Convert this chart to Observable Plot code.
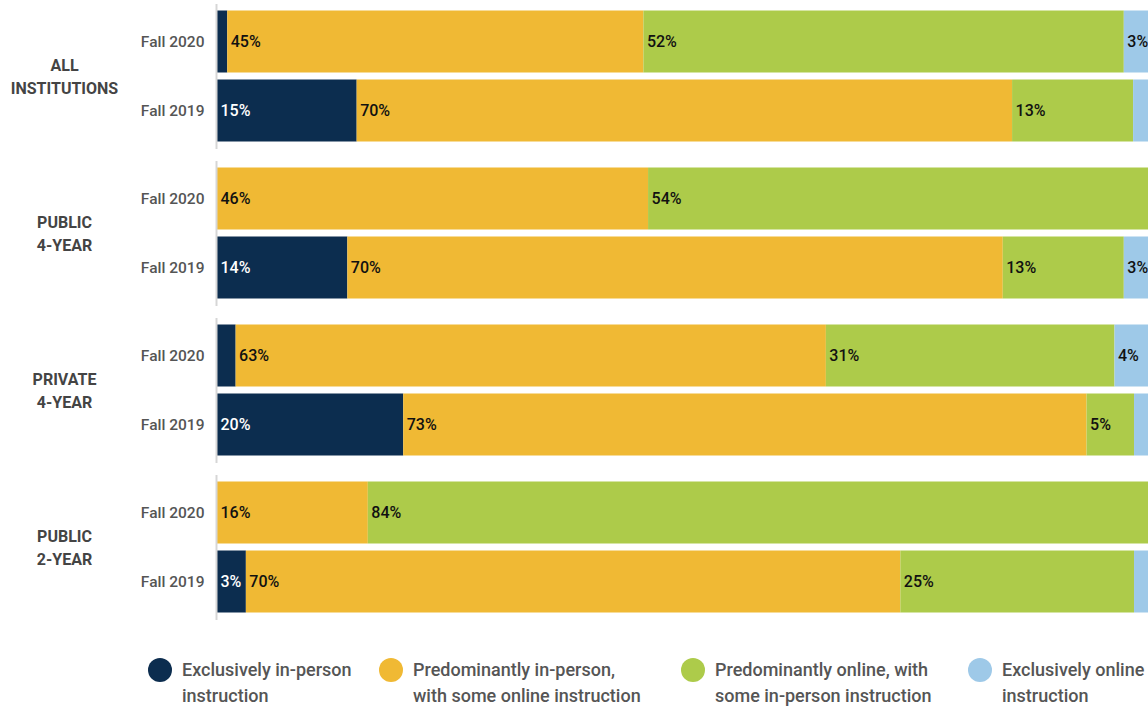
<!DOCTYPE html>
<html>
<head>
<meta charset="utf-8">
<script src="https://cdn.jsdelivr.net/npm/d3@7"></script>
<script src="https://cdn.jsdelivr.net/npm/@observablehq/plot@0.6"></script>
<style>
  html, body { margin: 0; padding: 0; background: #fff; overflow: hidden; }
  body { width: 1148px; height: 708px; position: relative; font-family: Roboto, "Noto Sans", sans-serif; }
  #chart svg { display: block; }
  .legend { position: absolute; top: 0; left: 0; width: 1148px; height: 708px; pointer-events: none; overflow: hidden; }
  .item { position: absolute; top: 657px; }
  .dot { position: absolute; top: 1px; width: 24px; height: 24px; border-radius: 50%; }
  .lab { position: absolute; top: 0; left: 34px; font-size: 18px; line-height: 26px; font-weight: 500; color: #555; white-space: nowrap; }
</style>
</head>
<body>
<div id="chart"></div>
<div class="legend" id="legend"></div>
<script>
// ---- data ----
const groups = ["ALL INSTITUTIONS", "PUBLIC 4-YEAR", "PRIVATE 4-YEAR", "PUBLIC 2-YEAR"];
const groupLabels = ["ALL\nINSTITUTIONS", "PUBLIC\n4-YEAR", "PRIVATE\n4-YEAR", "PUBLIC\n2-YEAR"];
const years = ["Fall 2020", "Fall 2019"];
const categories = [
  "Exclusively in-person instruction",
  "Predominantly in-person, with some online instruction",
  "Predominantly online, with some in-person instruction",
  "Exclusively online instruction"
];
const legendLabels = [
  "Exclusively in-person<br>instruction",
  "Predominantly in-person,<br>with some online instruction",
  "Predominantly online, with<br>some in-person instruction",
  "Exclusively online<br>instruction"
];
const colors = ["#0c2d4f", "#f0b934", "#adcb4a", "#9ec9e8"];
// order: All 2020, All 2019, Pub4 2020, Pub4 2019, Priv4 2020, Priv4 2019, Pub2 2020, Pub2 2019
const exclusivelyInPerson     = [1.1,  15.0, 0,    14.0, 2.0,  20.0, 0,    3.1];
const predominantlyInPerson   = [44.7, 70.4, 46.3, 70.4, 63.4, 73.4, 16.2, 70.3];
const predominantlyOnline     = [51.6, 13.0, 53.7, 13.0, 31.0, 5.1,  83.8, 25.1];
const exclusivelyOnline       = [2.6,  1.6,  0,    2.6,  3.6,  1.5,  0,    1.5];
const seriesValues = [exclusivelyInPerson, predominantlyInPerson, predominantlyOnline, exclusivelyOnline];

// ---- build table ----
const rows = [];
groups.forEach((g, gi) => {
  years.forEach((y, yi) => {
    const idx = gi * 2 + yi;
    categories.forEach((c, ci) => {
      rows.push({group: g, year: y, category: c, value: seriesValues[ci][idx]});
    });
  });
});

const chart = Plot.plot({
  width: 1148,
  height: 628,
  marginLeft: 217,
  marginRight: 0,
  marginTop: 2.5,
  marginBottom: 7,
  style: {fontFamily: "Roboto, 'Noto Sans', sans-serif", fontSize: "15px"},
  x: {domain: [0, 100], axis: null},
  y: {domain: years, paddingInner: 0.1014, paddingOuter: 0.1014, axis: null},
  fy: {domain: groups, paddingInner: 0.0794, paddingOuter: 0, axis: null},
  color: {domain: categories, range: colors},
  marks: [
    Plot.barX(rows, Plot.stackX({x: "value", y: "year", fy: "group", fill: "category", order: categories})),
    Plot.ruleX([0], {stroke: "#d6d6d6", strokeWidth: 2, dx: -1}),
    Plot.axisY({tickSize: 0, tickPadding: 13, fontSize: 15.5, fontWeight: 500, fill: "#555", label: null}),
    Plot.text(groups, {
      fy: d => d,
      text: d => groupLabels[groups.indexOf(d)],
      frameAnchor: "left",
      dx: -153,
      dy: -2,
      textAnchor: "middle",
      lineHeight: 1.44,
      fontSize: 16,
      fontWeight: 700,
      fill: "#444"
    }),
    Plot.text(rows, Plot.stackX1({
      x: "value", y: "year", fy: "group", z: "category", order: categories,
      text: d => d.value >= 2.5 ? Math.round(d.value) + "%" : null,
      fill: d => d.category === categories[0] ? "#ffffff" : "#111111",
      textAnchor: "start",
      dx: 3,
      fontSize: 16,
      fontWeight: 500
    }))
  ]
});
document.getElementById("chart").appendChild(chart);

// ---- legend ----
const legendX = [148, 379, 681, 968];
const legend = document.getElementById("legend");
categories.forEach((c, i) => {
  const item = document.createElement("div");
  item.className = "item";
  item.style.left = legendX[i] + "px";
  item.innerHTML = `<div class="dot" style="background:${colors[i]}"></div><div class="lab">${legendLabels[i]}</div>`;
  legend.appendChild(item);
});
</script>
</body>
</html>
